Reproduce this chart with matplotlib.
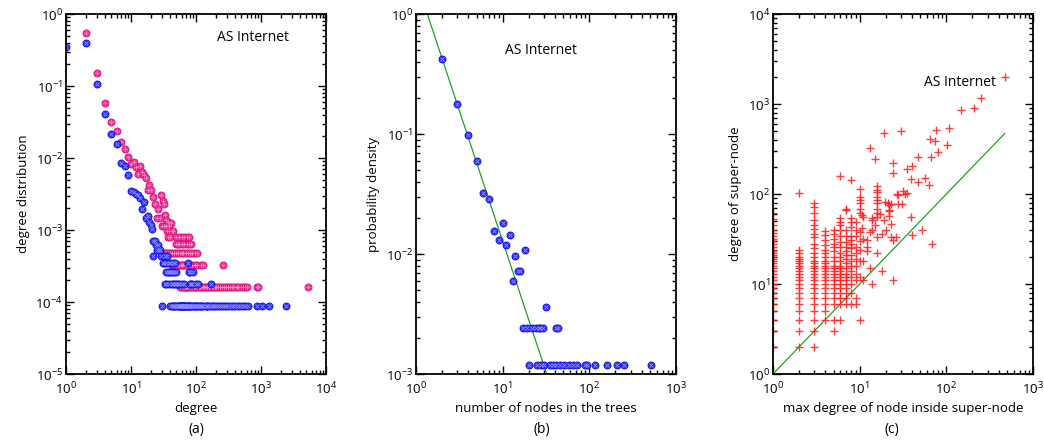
import matplotlib
matplotlib.use("Agg")
import matplotlib.pyplot as plt
import numpy as np

plt.rcParams['font.family'] = ['Open Sans', 'DejaVu Sans']
plt.rcParams['mathtext.fontset'] = 'custom'
plt.rcParams['mathtext.rm'] = 'Open Sans'
plt.rcParams['mathtext.it'] = 'Open Sans:italic'
plt.rcParams['font.size'] = 9.5

# ---- panel (a): degree distribution ----
blue_head_deg = [1, 2, 3, 4, 5, 6, 7, 8, 9, 10, 11, 12, 13, 14, 15, 16, 17, 18, 19, 20, 21]
blue_head_p = [0.344, 0.40, 0.107, 0.041, 0.0213, 0.0156, 0.0084, 0.0077, 0.0059, 0.0035,
               0.0034, 0.0032, 0.0031, 0.00275, 0.00196, 0.00247, 0.00145, 0.00156,
               0.0013, 0.00117, 0.00105]
blue_unit = 8.8e-5
blue_tail_counts = [8, 7, 6, 5, 4, 3, 2, 1]
blue_tail_deg = [
    [22, 23],
    [24, 26],
    [25, 27, 28],
    [22, 29, 33, 36],
    [31, 32, 34, 38, 40, 44, 48, 76],
    [35, 37, 39, 41, 43, 46, 49, 77, 82, 90],
    [33, 35, 38, 42, 45, 47, 50, 53, 55, 60, 66, 80, 85, 88, 100, 108, 168],
    [30, 40, 42, 44, 46, 48, 51, 52, 54, 56, 57, 58, 59, 61, 62, 63, 64, 65, 67, 68, 70,
     72, 74, 75, 78, 79, 81, 83, 86, 92, 95, 97, 102, 105, 110, 115, 120, 125, 130, 140,
     145, 150, 160, 170, 180, 190, 200, 215, 230, 250, 270, 290, 310, 340, 370, 400, 440,
     480, 520, 570, 620, 860, 1020, 1340, 2400],
]

pink_head_deg = [2, 3, 4, 5, 6, 7, 8, 9, 10, 11, 12, 13, 14, 15, 16, 17, 18, 19, 20, 22,
                 23, 25, 26, 28, 29, 31, 32, 33, 35, 37, 41]
pink_head_p = [0.55, 0.15, 0.059, 0.032, 0.0235, 0.0169, 0.0133, 0.0104, 0.0083, 0.0089,
               0.0074, 0.0061, 0.0077, 0.0063, 0.0058, 0.0052, 0.0036, 0.0042, 0.0036,
               0.0029, 0.0023, 0.00145, 0.00196, 0.00145, 0.0031, 0.0025, 0.0023,
               0.00162, 0.00138, 0.0013, 0.00124]
pink_unit = 1.62e-4
pink_tail_counts = [7, 6, 5, 4, 3, 2, 1]
pink_tail_deg = [
    [30, 32, 34, 38],
    [36, 39, 42, 45],
    [37, 40, 50, 55, 60, 65, 72, 78],
    [49, 52, 55, 60, 66, 72, 79, 85],
    [33, 35, 37, 40, 43, 46, 49, 52, 56, 60, 64, 69, 75, 80, 87, 95, 105],
    [42, 44, 46, 48, 50, 52, 55, 58, 61, 64, 67, 70, 73, 77, 82, 88, 95, 105, 118, 130, 257],
    [57, 60, 62, 65, 68, 70, 73, 76, 80, 84, 88, 92, 96, 100, 105, 110, 115, 120, 127, 135,
     142, 150, 158, 165, 175, 185, 195, 205, 220, 235, 250, 270, 290, 310, 335, 360, 390,
     420, 450, 490, 530, 570, 600, 860, 910, 5340],
]

# ---- panel (b): tree size distribution ----
tree_size = [2, 3, 4, 5, 6, 7, 8, 9, 10, 11, 12, 13, 14, 15, 16, 18, 32,
             17, 19, 22, 24, 26, 27, 29, 41, 44,
             20, 25, 28, 30, 35, 38, 41, 46, 51, 58, 65, 73, 88, 93, 115, 160, 210, 250, 510]
tree_p = [0.42, 0.178, 0.099, 0.0596, 0.0324, 0.0287, 0.0156, 0.0132, 0.018, 0.012, 0.0143,
          0.006, 0.0096, 0.0072, 0.0072, 0.0108, 0.0036,
          0.0024, 0.0024, 0.0024, 0.0024, 0.0024, 0.0024, 0.0024, 0.0024, 0.0024,
          0.0012, 0.0012, 0.0012, 0.0012, 0.0012, 0.0012, 0.0012, 0.0012, 0.0012, 0.0012,
          0.0012, 0.0012, 0.0012, 0.0012, 0.0012, 0.0012, 0.0012, 0.0012, 0.0012]
fit_b_x = [1.35, 32.2]
fit_b_y = [1.0, 1e-3]

# ---- panel (c): super-node degree vs max inner degree ----
col_x = [1, 2, 3, 4, 5, 6, 7, 8, 9, 10]
col_y = [
    [2, 3, 4, 5, 6, 7, 8, 9, 10, 11, 12, 13, 14, 15, 16, 17, 18, 19, 20, 21, 22, 23, 24,
     26, 28, 30, 32, 34, 37, 40, 45, 53, 62],
    [2, 3, 4, 5, 6, 7, 8, 9, 10, 11, 12, 13, 14, 15, 16, 17, 18, 19, 20, 22, 24, 104],
    [2, 3, 4, 5, 6, 7, 8, 9, 10, 11, 12, 13, 14, 15, 16, 17, 18, 20, 22, 25, 28, 33, 36,
     41, 45, 51, 61, 72, 80],
    [4, 5, 6, 7, 8, 9, 10, 11, 12, 13, 14, 15, 16, 17, 18, 20, 22, 24, 27, 31, 35, 39],
    [3, 4, 6, 7, 8, 9, 10, 11, 12, 13, 14, 15, 16, 18, 20, 23, 26, 28, 32, 36, 40],
    [4, 6, 7, 8, 9, 10, 11, 12, 13, 14, 15, 16, 18, 20, 22, 26, 29, 34, 40, 45, 49, 54, 160],
    [6, 7, 8, 9, 10, 11, 12, 13, 15, 17, 19, 21, 23, 26, 29, 34, 40, 66, 69],
    [6, 8, 10, 12, 14, 16, 18, 21, 25, 28, 31, 34, 43, 49, 54, 143],
    [6, 7, 11, 13, 16, 19, 22, 26, 34, 40, 49],
    [4, 12, 18, 24, 30, 38, 61, 69, 79, 86, 93, 115],
]
extra_x = [11, 11, 10.5, 11, 11, 10.5, 12, 12, 12, 13, 13, 13, 14, 14, 14, 14, 15, 15, 16, 16,
           16, 16, 16, 16, 16, 16, 16, 16, 16, 17, 18, 18, 19, 19.5, 19, 20, 21, 22, 22, 22,
           22, 23, 23, 23, 24, 24, 24, 24, 26, 27, 28, 28, 30, 31, 32, 33, 35, 35, 39, 39, 40,
           40, 47, 47, 52, 56, 63, 65, 66, 68, 73, 75, 81, 103, 108, 147, 208, 249, 479]
extra_y = [11, 18, 42, 32, 55, 58, 23, 26, 31, 15, 322, 38, 10, 40, 51, 54, 243, 45, 22, 33,
           55, 61, 69, 79, 86, 93, 106, 110, 123, 60, 14, 36, 480, 82, 51, 40, 79, 65, 57, 75,
           66, 33, 46, 77, 11, 170, 224, 31, 33, 100, 97, 77, 505, 77, 108, 99, 102, 188, 56,
           146, 204, 35, 137, 257, 40, 149, 125, 405, 257, 28, 388, 514, 295, 355, 537, 857,
           895, 1175, 2000]
diag = [1, 470]


def style_axes(ax):
    ax.set_xscale('log')
    ax.set_yscale('log')
    ax.tick_params(which='both', direction='in', top=True, right=True, width=1)
    ax.tick_params(which='major', length=6)
    ax.tick_params(which='minor', length=3)
    ax.tick_params(axis='x', pad=5)
    ax.tick_params(axis='y', pad=2)
    for s in ax.spines.values():
        s.set_linewidth(1.3)


def dots(ax, x, y, face, edge, inner, mark):
    ax.plot(x, y, 'o', ms=5, mfc=face, mec=edge, mew=0.7, ls='none')
    ax.plot(x, y, mark, ms=3, color=inner, mew=0.6, ls='none')


fig = plt.figure(figsize=(10.44, 4.4), dpi=100)
ax_a = fig.add_axes([0.0632, 0.15, 0.2491, 0.818])
ax_b = fig.add_axes([0.3985, 0.15, 0.2490, 0.818])
ax_c = fig.add_axes([0.7404, 0.15, 0.2491, 0.818])

# (a)
pink_x = list(pink_head_deg)
pink_y = list(pink_head_p)
for c, degs in zip(pink_tail_counts, pink_tail_deg):
    pink_x += degs
    pink_y += [c * pink_unit] * len(degs)
blue_x = list(blue_head_deg)
blue_y = list(blue_head_p)
for c, degs in zip(blue_tail_counts, blue_tail_deg):
    blue_x += degs
    blue_y += [c * blue_unit] * len(degs)
dots(ax_a, pink_x, pink_y, '#ee3a98', '#e0147c', '#f890c4', '+')
dots(ax_a, blue_x, blue_y, '#3030ff', '#1414e6', '#8c8cff', 'x')
style_axes(ax_a)
ax_a.set_xlim(1, 1e4)
ax_a.set_ylim(1e-5, 1)
ax_a.set_xlabel('degree', labelpad=3)
ax_a.set_ylabel('degree distribution', labelpad=4)
ax_a.text(0.72, 0.935, 'AS Internet', transform=ax_a.transAxes, ha='center', va='center',
          fontsize=10)

# (b)
ax_b.plot(fit_b_x, fit_b_y, color='#22a022', lw=0.9)
dots(ax_b, tree_size, tree_p, '#3030ff', '#1414e6', '#8c8cff', 'x')
style_axes(ax_b)
ax_b.set_xlim(1, 1e3)
ax_b.set_ylim(1e-3, 1)
ax_b.set_xlabel('number of nodes in the trees', labelpad=3)
ax_b.set_ylabel('probability density', labelpad=4)
ax_b.text(0.48, 0.9, 'AS Internet', transform=ax_b.transAxes, ha='center', va='center',
          fontsize=10)

# (c)
cx, cy = [], []
for x, ys in zip(col_x, col_y):
    cx += [x] * len(ys)
    cy += ys
cx += extra_x
cy += extra_y
ax_c.plot(diag, diag, color='#22a022', lw=0.9)
ax_c.plot(cx, cy, '+', color='#ff1a1a', ms=5.5, mew=1.0, alpha=0.85, ls='none')
style_axes(ax_c)
ax_c.set_xlim(1, 1e3)
ax_c.set_ylim(1, 1e4)
ax_c.set_xlabel('max degree of node inside super-node', labelpad=3)
ax_c.set_ylabel('degree of super-node', labelpad=4)
ax_c.text(0.72, 0.81, 'AS Internet', transform=ax_c.transAxes, ha='center', va='center',
          fontsize=10)

fig.text(0.188, 0.025, '(a)', ha='center', va='center', fontsize=10)
fig.text(0.519, 0.025, '(b)', ha='center', va='center', fontsize=10)
fig.text(0.854, 0.025, '(c)', ha='center', va='center', fontsize=10)

fig.savefig('out.png', dpi=100)
